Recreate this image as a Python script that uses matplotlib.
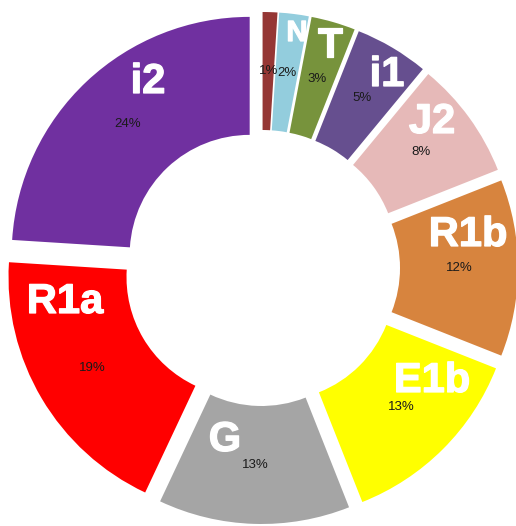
import matplotlib
matplotlib.use("Agg")
import matplotlib.pyplot as plt
import matplotlib.patheffects as pe

# Haplogroup shares (percent), clockwise from 12 o'clock
categories = ["", "N", "T", "i1", "J2", "R1b", "E1b", "G", "R1a", "i2"]
shares = [1, 2, 3, 5, 8, 12, 13, 13, 19, 24]
colors = ["#953735", "#93CDDD", "#77933C", "#664F8F", "#E6B9B8",
          "#D7843E", "#FFFF00", "#A5A5A5", "#FF0000", "#7030A0"]

# Layout (pixel units, y measured from the top)
W, H = 516, 526
cx, cy = 262, 268
outer_r, inner_r, offset = 238, 120, 18

# Category name anchors and font sizes
name_pos = [None, (297, 33), (330, 46), (387, 75), (432, 122),
            (468, 235), (432, 381), (225, 440), (65, 302), (148, 82)]
name_size = [0, 21, 30, 30, 30, 30, 30, 30, 30, 30]

fig = plt.figure(figsize=(W / 100, H / 100), dpi=100)
ax = fig.add_axes([0, 0, 1, 1])

# pie() adds the explode value to the centre directly, so it is in data units
wedges, texts, autotexts = ax.pie(
    shares,
    colors=colors,
    startangle=90,
    counterclock=False,
    center=(cx, H - cy),
    radius=outer_r,
    explode=[offset] * len(shares),
    wedgeprops=dict(width=outer_r - inner_r, linewidth=0),
    autopct=lambda p: f"{p:.0f}%",
    pctdistance=(outer_r + inner_r) / 2 / outer_r,
    textprops=dict(family=["Liberation Sans", "DejaVu Sans"], fontsize=9.5,
                   color="#1a1a1a"),
)

heavy = [pe.withStroke(linewidth=0.9, foreground="white")]
for name, pos, size in zip(categories, name_pos, name_size):
    if not name:
        continue
    ax.text(pos[0], H - pos[1], name, ha="center", va="center",
            family=["Liberation Sans", "DejaVu Sans"], fontweight="bold",
            fontsize=size, color="white", path_effects=heavy)

ax.set_xlim(0, W)
ax.set_ylim(0, H)
ax.set_aspect("equal")
ax.axis("off")

fig.savefig("out.png", dpi=100, facecolor="white")
